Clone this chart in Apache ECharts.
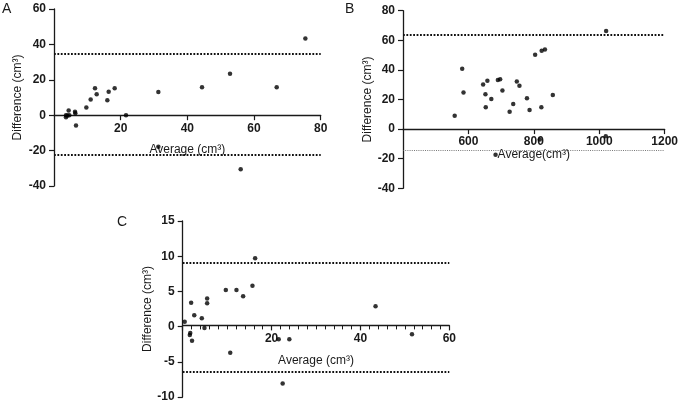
<!DOCTYPE html>
<html>
<head>
<meta charset="utf-8">
<script src="https://cdn.jsdelivr.net/npm/echarts@6/dist/echarts.min.js"></script>
<style>
  html, body { margin: 0; padding: 0; background: #fff; }
  #chart { width: 681px; height: 403px; }
</style>
</head>
<body>
<div id="chart"></div>
<script>
// ---- Panel A ----
const aAvg  = [3.6, 3.6, 4.0, 4.4, 4.6, 6.3, 6.4, 6.6, 9.7, 11.0, 12.3, 12.8, 16.0, 16.4, 18.2, 21.6, 31.3, 31.3, 44.4, 52.8, 56.0, 66.8, 75.4];
const aDiff = [0, -1.1, -0.2, 2.6, 0, 1.9, 1.1, -5.8, 4.3, 8.8, 15.2, 11.8, 8.4, 13.3, 15.2, 0, 13.1, -17.8, 15.8, 23.4, -30.6, 15.8, 43.3];
const aLimits = [35, -22.3];

// ---- Panel B ----
const bAvg  = [558, 581, 585, 645, 658, 652, 653, 670, 690, 697, 704, 726, 737, 748, 756, 779, 787, 804, 824, 834, 823, 858, 1021, 1020, 818, 683];
const bDiff = [9.1, 40.7, 24.7, 30.2, 32.7, 23.6, 14.7, 20.4, 33.1, 33.6, 26.0, 11.8, 16.9, 32.2, 29.3, 20.9, 12.9, 50.2, 52.9, 53.8, 14.7, 23.1, 66.2, -4.9, -7.1, -17.3];
const bLimits = [63.5, -14];

// ---- Panel C ----
const cAvg  = [0.45, 1.9, 1.7, 1.6, 2.1, 2.6, 4.3, 4.9, 5.5, 5.5, 9.7, 10.7, 12.1, 13.6, 15.7, 16.3, 21.6, 24.0, 22.5, 43.4, 51.6];
const cDiff = [0.7, 3.4, -0.9, -1.2, -2.0, 1.6, 1.2, -0.2, 4.0, 3.3, 5.2, -3.7, 5.2, 4.3, 5.8, 9.7, -1.8, -1.8, -8.1, 2.9, -1.1];
const cLimits = [9.05, -6.45];

const FONT = 'Liberation Sans, Arial, sans-serif';
const INK = '#1a1a1a';

function pairs(xs, ys) {
  return xs.map((x, i) => [x, ys[i]]);
}

// x axis drawn across y = 0: lift it from the bottom of the grid by offset
function xAxisOf(idx, min, max, interval, lift, name, nameGap, minor) {
  return {
    gridIndex: idx, type: 'value', min: min, max: max, interval: interval,
    offset: -lift,
    name: name, nameLocation: 'middle', nameGap: nameGap,
    nameTextStyle: { fontFamily: FONT, fontSize: 12, color: INK },
    axisLine: { onZero: false, lineStyle: { color: INK, width: 1.3 } },
    axisTick: { length: 5, lineStyle: { color: INK, width: 1.2 } },
    minorTick: minor ? { show: true, splitNumber: 10, length: 4, lineStyle: { color: INK, width: 1 } } : { show: false },
    axisLabel: {
      showMinLabel: false, margin: 7, fontFamily: FONT, fontWeight: 'bold', fontSize: 12, color: INK,
      formatter: v => String(v)
    },
    splitLine: { show: false }
  };
}

function yAxisOf(idx, min, max, interval, nameGap) {
  return {
    gridIndex: idx, type: 'value', min: min, max: max, interval: interval,
    name: 'Difference (cm³)', nameLocation: 'middle', nameGap: nameGap,
    nameTextStyle: { fontFamily: FONT, fontSize: 12, color: INK },
    axisLine: { show: true, onZero: false, lineStyle: { color: INK, width: 1.3 } },
    axisTick: { show: true, length: 5, lineStyle: { color: INK, width: 1.2 } },
    axisLabel: { margin: 8, fontFamily: FONT, fontWeight: 'bold', fontSize: 12, color: INK },
    splitLine: { show: false }
  };
}

function limitLines(limits, styles) {
  return {
    silent: true, symbol: 'none', animation: false,
    label: { show: false },
    data: limits.map((v, i) => ({ yAxis: v, lineStyle: styles[i] }))
  };
}

const thickDot = { color: '#111', width: 1.8, type: [1.8, 1.6] };
const thinDot = { color: '#555', width: 0.8, type: [1, 1.2] };

function scatterOf(idx, data, markLine) {
  return {
    type: 'scatter', xAxisIndex: idx, yAxisIndex: idx,
    data: data, symbolSize: 4.5,
    itemStyle: { color: '#000' },
    markLine: markLine
  };
}

const chart = echarts.init(document.getElementById('chart'), null, { renderer: 'canvas' });

chart.setOption({
  animation: false,
  backgroundColor: '#fff',
  grid: [
    { left: 54, top: 9, width: 266.7, height: 177 },
    { left: 403, top: 10.7, width: 267, height: 177.6 },
    { left: 182.7, top: 221, width: 266.6, height: 179 }
  ],
  xAxis: [
    xAxisOf(0, 0, 80, 20, 70.8, 'Average (cm³)', 28, false),
    xAxisOf(1, 400, 1200, 200, 59.2, 'Average(cm³)', 20, false),
    xAxisOf(2, 0, 60, 20, 71.6, 'Average (cm³)', 29, true)
  ],
  yAxis: [
    yAxisOf(0, -40, 60, 20, 30),
    yAxisOf(1, -40, 80, 20, 28),
    yAxisOf(2, -10, 15, 5, 23)
  ],
  graphic: [
    { type: 'text', left: 2, top: 2, style: { text: 'A', font: '14px ' + FONT, fill: INK } },
    { type: 'text', left: 345, top: 2, style: { text: 'B', font: '14px ' + FONT, fill: INK } },
    { type: 'text', left: 117, top: 215, style: { text: 'C', font: '14px ' + FONT, fill: INK } }
  ],
  series: [
    scatterOf(0, pairs(aAvg, aDiff), limitLines(aLimits, [thickDot, thickDot])),
    scatterOf(1, pairs(bAvg, bDiff), limitLines(bLimits, [thickDot, thinDot])),
    scatterOf(2, pairs(cAvg, cDiff), limitLines(cLimits, [thickDot, thickDot]))
  ]
});
</script>
</body>
</html>
